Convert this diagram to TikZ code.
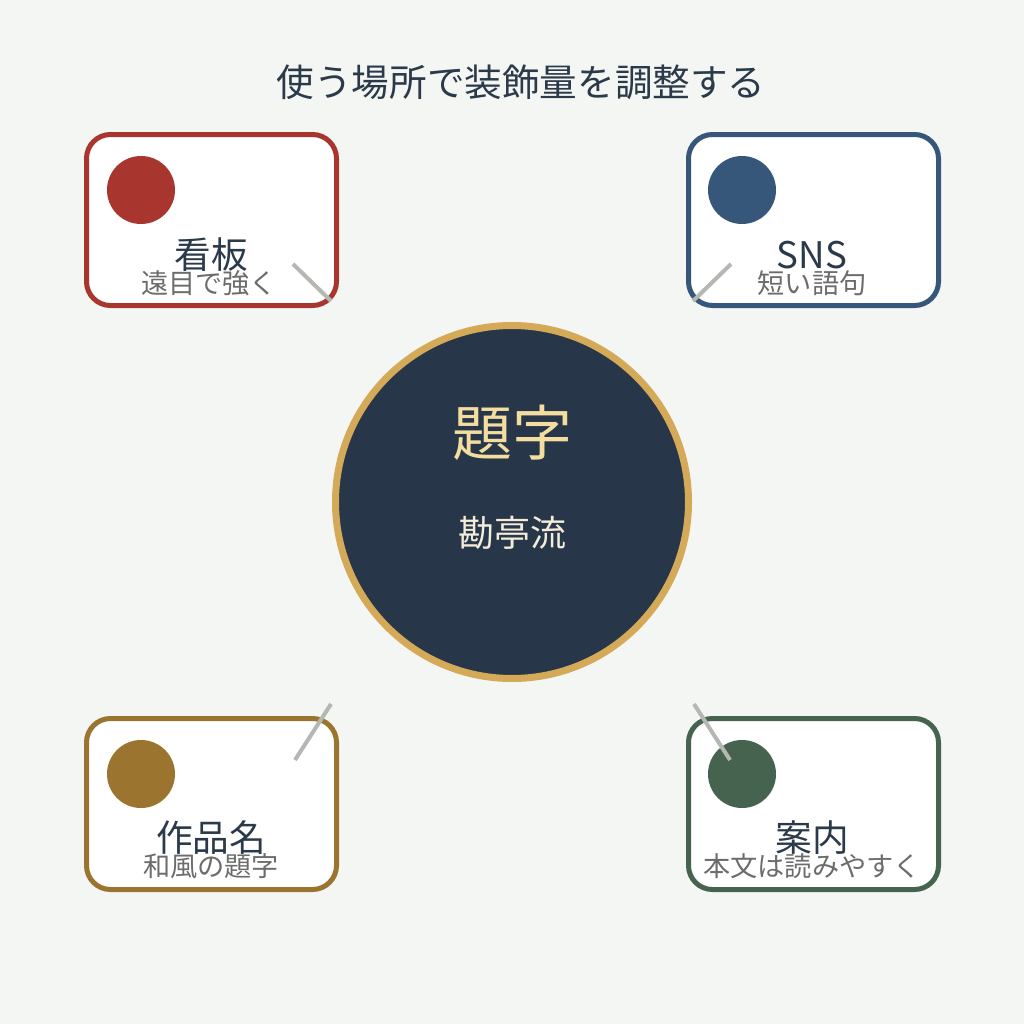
\documentclass[tikz,border=0pt]{standalone}
\usepackage{fontspec}
\setmainfont{Noto Sans CJK JP}
\usepackage{xcolor}
\usetikzlibrary{positioning}
\definecolor{bgpaper}{HTML}{F4F6F3}
\definecolor{inkdark}{HTML}{2B3A4A}
\definecolor{subgray}{HTML}{6B6D6B}
\definecolor{linkgray}{HTML}{B5B7B3}
\definecolor{kanbanred}{HTML}{A8352E}
\definecolor{snsblue}{HTML}{36567A}
\definecolor{sakuhingold}{HTML}{9B7430}
\definecolor{annaigreen}{HTML}{45634F}
\definecolor{coreblue}{HTML}{273649}
\definecolor{coreedge}{HTML}{D4A957}
\definecolor{titlegold}{HTML}{F3DEA0}
\definecolor{creamtext}{HTML}{F3ECD8}

\begin{document}
\begin{tikzpicture}[x=0.75pt, y=-0.75pt, node distance=1pt,
  card/.style={draw, line width=3.75pt, rounded corners=18pt, fill=white, minimum width=187.5pt, minimum height=128.25pt, inner sep=0pt},
  dot/.style={circle, inner sep=0pt, minimum size=51pt},
  cardtitle/.style={font=\fontsize{27.5}{30}\selectfont, text=inkdark, inner sep=0pt},
  cardsub/.style={font=\fontsize{20.4}{22}\selectfont, text=subgray, inner sep=0pt},
  link/.style={draw=linkgray, line width=3pt}]
  % Background
  \fill[bgpaper] (0,0) rectangle (1024,1024);
  \useasboundingbox (0,0) rectangle (1024,1024);

  % Title
  \node[font=\fontsize{28.2}{30}\selectfont, text=inkdark] (title) at (521,82) {使う場所で装飾量を調整する};

  % Center
  \node[circle, draw=coreedge, line width=5.25pt, fill=coreblue, minimum size=264.75pt, inner sep=0pt] (core) at (512,502) {};
  \node[font=\fontsize{45}{48}\selectfont, text=titlegold, inner sep=0pt] (coreword) at (512,433) {題字};
  \node[font=\fontsize{27}{28}\selectfont, text=creamtext, inner sep=0pt] (corestyle) at (512,533) {勘亭流};

  % Cards
  \node[card, draw=kanbanred] (kanban) at (211.5,220) {};
  \node[card, draw=snsblue] (sns) at (813.5,220) {};
  \node[card, draw=sakuhingold] (sakuhin) at (211.5,804) {};
  \node[card, draw=annaigreen] (annai) at (813.5,804) {};

  \node[dot, fill=kanbanred] (kanbandot) at (141,190) {};
  \node[dot, fill=snsblue] (snsdot) at (742,190) {};
  \node[dot, fill=sakuhingold] (sakuhindot) at (141,774) {};
  \node[dot, fill=annaigreen] (annaidot) at (742,774) {};

  % Links
  \coordinate (kanbanA) at (293,264);
  \coordinate (kanbanB) at (331,301);
  \coordinate (snsA) at (731,264);
  \coordinate (snsB) at (693,301);
  \coordinate (sakuhinA) at (331,704);
  \coordinate (sakuhinB) at (295,760);
  \coordinate (annaiA) at (694,704);
  \coordinate (annaiB) at (730,760);
  \draw[link] (kanbanA) -- (kanbanB);
  \draw[link] (snsA) -- (snsB);
  \draw[link] (sakuhinA) -- (sakuhinB);
  \draw[link] (annaiA) -- (annaiB);

  % Labels
  \node[cardtitle] (kanbanname) at (211,255) {看板};
  \node[cardsub] (kanbannote) at (209,283) {遠目で強く};
  \node[cardtitle] (snsname) at (812,255) {SNS};
  \node[cardsub] (snsnote) at (812,283) {短い語句};
  \node[cardtitle] (sakuhinname) at (211,838) {作品名};
  \node[cardsub] (sakuhinnote) at (211,866) {和風の題字};
  \node[cardtitle] (annainame) at (812,838) {案内};
  \node[cardsub] (annainote) at (812,866) {本文は読みやすく};
\end{tikzpicture}
\end{document}
